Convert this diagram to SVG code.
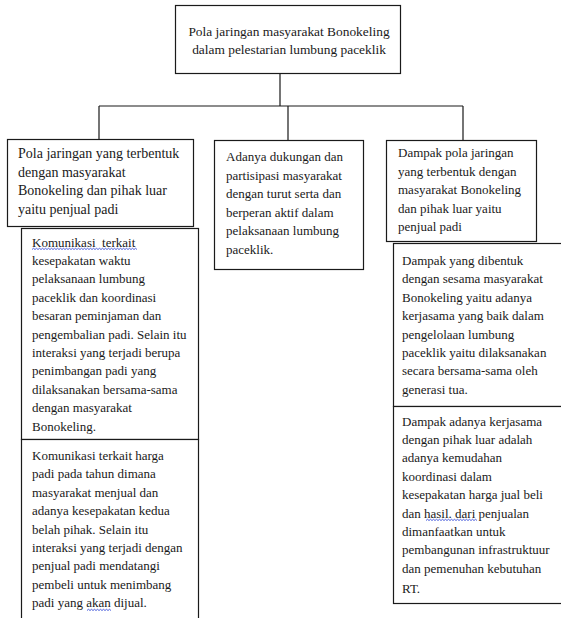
<svg xmlns="http://www.w3.org/2000/svg" width="561" height="618" viewBox="0 0 561 618">
<style>
.box{fill:#fff;stroke:#1a1a1a;stroke-width:1.2}
.t{font-family:"Liberation Serif","Times New Roman",serif;font-size:13px;fill:#1a1a1a;white-space:pre}
.big{font-size:14px}
.top{font-size:13.4px}
.c{fill:none;stroke:#1a1a1a;stroke-width:1.2}
.sq{fill:none;stroke:#3a4fd8;stroke-width:0.9}
</style>
<rect width="561" height="618" fill="#fff"/>
<g id="connectors">
<path class="c" d="M280 73.5 V106 M99 106 H463 M99 106 V139 M288 106 V140 M463 106 V140"/>
</g>
<g id="root">
<rect class="box" x="175.5" y="5.5" width="225" height="68"/>
<text class="t top" text-anchor="middle"><tspan x="289" y="36">Pola jaringan masyarakat Bonokeling</tspan><tspan x="289" y="54">dalam pelestarian lumbung paceklik</tspan></text>
</g>
<g id="left1">
<rect class="box" x="7.5" y="139.5" width="186" height="87"/>
<text class="t big"><tspan x="18" y="158">Pola jaringan yang terbentuk</tspan><tspan x="18" y="176.5">dengan masyarakat</tspan><tspan x="18" y="195">Bonokeling dan pihak luar</tspan><tspan x="18" y="213.5">yaitu penjual padi</tspan></text>
</g>
<g id="left2">
<rect class="box" x="21.5" y="228.5" width="177" height="211"/>
<text class="t"><tspan x="32" y="246.5">Komunikasi  terkait</tspan><tspan x="32" y="264.9">kesepakatan waktu</tspan><tspan x="32" y="283.3">pelaksanaan lumbung</tspan><tspan x="32" y="301.7">paceklik dan koordinasi</tspan><tspan x="32" y="320.1">besaran peminjaman dan</tspan><tspan x="32" y="338.5">pengembalian padi. Selain itu</tspan><tspan x="32" y="356.9">interaksi yang terjadi berupa</tspan><tspan x="32" y="375.3">penimbangan padi yang</tspan><tspan x="32" y="393.7">dilaksanakan bersama-sama</tspan><tspan x="32" y="412.1">dengan masyarakat</tspan><tspan x="32" y="430.5">Bonokeling.</tspan></text>
<path class="sq" d="M32 249.5 l1.5 -1.2 l1.5 1.2 l1.5 -1.2 l1.5 1.2 l1.5 -1.2 l1.5 1.2 l1.5 -1.2 l1.5 1.2 l1.5 -1.2 l1.5 1.2 l1.5 -1.2 l1.5 1.2 l1.5 -1.2 l1.5 1.2 l1.5 -1.2 l1.5 1.2 l1.5 -1.2 l1.5 1.2 l1.5 -1.2 l1.5 1.2 l1.5 -1.2 l1.5 1.2 l1.5 -1.2 l1.5 1.2 l1.5 -1.2 l1.5 1.2 l1.5 -1.2 l1.5 1.2 l1.5 -1.2 l1.5 1.2 l1.5 -1.2 l1.5 1.2 l1.5 -1.2 l1.5 1.2 l1.5 -1.2 l1.5 1.2 l1.5 -1.2 l1.5 1.2 l1.5 -1.2 l1.5 1.2 l1.5 -1.2 l1.5 1.2 l1.5 -1.2 l1.5 1.2 l1.5 -1.2 l1.5 1.2 l1.5 -1.2 l1.5 1.2 l1.5 -1.2 l1.5 1.2 l1.5 -1.2 l1.5 1.2 l1.5 -1.2 l1.5 1.2 l1.5 -1.2 l1.5 1.2 l1.5 -1.2 l1.5 1.2 l1.5 -1.2 l1.5 1.2 l1.5 -1.2 l1.5 1.2 l1.5 -1.2 l1.5 1.2 l1.5 -1.2 l1.5 1.2 l1.5 -1.2 l1.5 1.2 l1.5 -1.2 l1.5 1.2"/>
</g>
<g id="left3">
<rect class="box" x="21.5" y="439.5" width="177" height="190"/>
<text class="t"><tspan x="32" y="460">Komunikasi terkait harga</tspan><tspan x="32" y="478.4">padi pada tahun dimana</tspan><tspan x="32" y="496.8">masyarakat menjual dan</tspan><tspan x="32" y="515.2">adanya kesepakatan kedua</tspan><tspan x="32" y="533.6">belah pihak. Selain itu</tspan><tspan x="32" y="552">interaksi yang terjadi dengan</tspan><tspan x="32" y="570.4">penjual padi mendatangi</tspan><tspan x="32" y="588.8">pembeli untuk menimbang</tspan><tspan x="32" y="607.2">padi yang akan dijual.</tspan></text>
<path class="sq" d="M87 610.5 l1.5 -1.2 l1.5 1.2 l1.5 -1.2 l1.5 1.2 l1.5 -1.2 l1.5 1.2 l1.5 -1.2 l1.5 1.2 l1.5 -1.2 l1.5 1.2 l1.5 -1.2 l1.5 1.2 l1.5 -1.2 l1.5 1.2 l1.5 -1.2 l1.5 1.2"/>
</g>
<g id="middle">
<rect class="box" x="214.5" y="140.5" width="149" height="129"/>
<text class="t"><tspan x="226" y="161">Adanya dukungan dan</tspan><tspan x="226" y="179.5">partisipasi masyarakat</tspan><tspan x="226" y="198">dengan turut serta dan</tspan><tspan x="226" y="216.5">berperan aktif dalam</tspan><tspan x="226" y="235">pelaksanaan lumbung</tspan><tspan x="226" y="253.5">paceklik.</tspan></text>
</g>
<g id="right1">
<rect class="box" x="386.5" y="140.5" width="150" height="101"/>
<text class="t"><tspan x="398" y="157">Dampak pola jaringan</tspan><tspan x="398" y="175.5">yang terbentuk dengan</tspan><tspan x="398" y="194">masyarakat Bonokeling</tspan><tspan x="398" y="212.5">dan pihak luar yaitu</tspan><tspan x="398" y="231">penjual padi</tspan></text>
</g>
<g id="right2">
<rect class="box" x="393.5" y="243.5" width="180" height="163"/>
<text class="t"><tspan x="402" y="265">Dampak yang dibentuk</tspan><tspan x="402" y="283.4">dengan sesama masyarakat</tspan><tspan x="402" y="301.8">Bonokeling yaitu adanya</tspan><tspan x="402" y="320.2">kerjasama yang baik dalam</tspan><tspan x="402" y="338.6">pengelolaan lumbung</tspan><tspan x="402" y="357">paceklik yaitu dilaksanakan</tspan><tspan x="402" y="375.4">secara bersama-sama oleh</tspan><tspan x="402" y="393.8">generasi tua.</tspan></text>
</g>
<g id="right3">
<rect class="box" x="393.5" y="406.5" width="180" height="197"/>
<text class="t"><tspan x="402" y="425.6">Dampak adanya kerjasama</tspan><tspan x="402" y="444">dengan pihak luar adalah</tspan><tspan x="402" y="462.4">adanya kemudahan</tspan><tspan x="402" y="480.8">koordinasi dalam</tspan><tspan x="402" y="499.2">kesepakatan harga jual beli</tspan><tspan x="402" y="517.6">dan hasil. dari penjualan</tspan><tspan x="402" y="536">dimanfaatkan untuk</tspan><tspan x="402" y="554.4">pembangunan infrastruktuur</tspan><tspan x="402" y="572.8">dan pemenuhan kebutuhan</tspan><tspan x="402" y="593">RT.</tspan></text>
<path class="sq" d="M426 520.5 l1.5 -1.2 l1.5 1.2 l1.5 -1.2 l1.5 1.2 l1.5 -1.2 l1.5 1.2 l1.5 -1.2 l1.5 1.2 l1.5 -1.2 l1.5 1.2 l1.5 -1.2 l1.5 1.2 l1.5 -1.2 l1.5 1.2 l1.5 -1.2 l1.5 1.2 l1.5 -1.2 l1.5 1.2 l1.5 -1.2 l1.5 1.2 l1.5 -1.2 l1.5 1.2 l1.5 -1.2 l1.5 1.2 l1.5 -1.2 l1.5 1.2 l1.5 -1.2 l1.5 1.2 l1.5 -1.2 l1.5 1.2 l1.5 -1.2 l1.5 1.2 l1.5 -1.2 l1.5 1.2"/>
</g>
</svg>
